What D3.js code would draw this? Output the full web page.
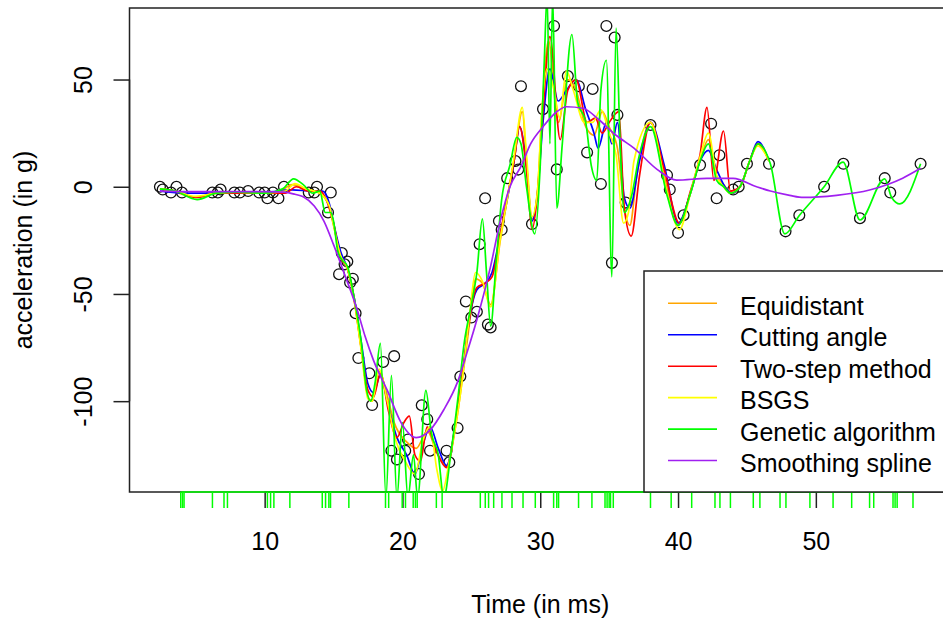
<!DOCTYPE html>
<html>
<head>
<meta charset="utf-8">
<script src="https://cdn.jsdelivr.net/npm/d3@7"></script>
<style>
  body { margin: 0; background: #fff; }
  text { font-family: "Liberation Sans", Arial, sans-serif; fill: #000; }
  .axis path, .axis line { stroke: #222; }
</style>
</head>
<body>
<script>
// mcycle data (duplicate times averaged)
var times = [2.4, 2.6, 3.2, 3.6, 4.0, 6.2, 6.6, 6.8, 7.8, 8.2, 8.8, 9.6, 10.0, 10.2, 10.6, 11.0, 11.4,
  13.2, 13.6, 13.8, 14.6, 14.8, 15.4, 15.6, 15.8, 16.0, 16.2, 16.4, 16.6, 16.8, 17.6, 17.8, 18.6,
  19.2, 19.4, 19.6, 20.2, 20.4, 21.2, 21.4, 21.8, 22.0, 23.2, 23.4, 24.0, 24.2, 24.6, 25.0, 25.4,
  25.6, 26.0, 26.2, 26.4, 27.0, 27.2, 27.6, 28.2, 28.4, 28.6, 29.4, 30.2, 31.0, 31.2, 32.0, 32.8,
  33.4, 33.8, 34.4, 34.8, 35.2, 35.4, 35.6, 36.2, 38.0, 39.2, 39.4, 40.0, 40.4, 41.6, 42.4, 42.8,
  43.0, 44.0, 44.4, 45.0, 46.6, 47.8, 48.8, 50.6, 52.0, 53.2, 55.0, 55.4, 57.6];
var accel = [0.0, -1.3, -2.7, 0.0, -2.7, -2.7, -2.7, -1.3, -2.7, -2.7, -2.0, -2.7, -2.7, -5.4, -2.7, -5.4, 0.0,
  -2.7, -2.7, 0.0, -12.0, -2.7, -40.8, -30.9, -36.2, -34.9, -44.7, -42.9, -59.0, -79.9, -87.0, -101.8, -81.7,
  -123.1, -79.0, -127.2, -123.1, -117.9, -134.0, -101.9, -108.4, -123.1, -123.1, -128.5, -112.5, -88.5, -53.5, -61.0, -58.3,
  -26.8, -5.4, -64.3, -65.6, -16.0, -20.1, 4.0, 12.0, 8.0, 46.9, -17.4, 36.2, 75.0, 8.1, 51.6, 46.9,
  16.0, 45.6, 1.3, 75.0, -35.5, 69.6, 33.5, -7.4, 28.8, 5.4, -1.3, -21.5, -13.3, 10.1, 29.4, -5.4,
  14.7, -1.3, 0.0, 10.7, 10.7, -20.8, -13.3, 0.0, 10.7, -14.7, 4.0, -2.7, 10.7];

// knots of the genetic algorithm (rug)
var knots = [3.91, 4.04, 4.15, 6.21, 7.05, 7.30, 10.2, 10.43, 10.67, 11.83, 14.18, 14.42, 14.66, 14.78,
  16.11, 18.77, 19.0, 19.98, 20.22, 20.78, 20.94, 21.07, 22.46, 22.88, 25.65, 26.01, 26.25, 26.62,
  27.22, 27.95, 28.75, 29.64, 30.97, 31.2, 31.33, 32.78, 33.75, 34.7, 34.85, 35.0, 35.1, 35.3, 38.0,
  39.5, 40.99, 42.68, 43.04, 43.8, 45.46, 45.94, 47.4, 47.83, 49.57, 51.25, 52.6, 53.9, 54.2, 55.6,
  55.75, 55.9, 57.05];

var xTicks = [10, 20, 30, 40, 50];
var yTicks = [-100, -50, 0, 50];

// fitted curves
var equidistant = [[2.4,-1],[3.5,-2.5],[5,-5],[6.5,-3],[8,-2.5],[10,-3],[11,-2.5],[12,1],[13,-1],[14,-3],[14.6,-8],
  [15,-18],[15.5,-32],[16,-38],[16.5,-52],[17,-75],[17.5,-98],[17.8,-100],[18.3,-86],[18.8,-95],[19.4,-110],
  [20.3,-119],[21,-122],[21.8,-114],[22.5,-124],[23.2,-130],[23.9,-110],[24.4,-87],[24.9,-62],[25.3,-43],
  [25.8,-45],[26.4,-55],[27.1,-25],[27.6,-6],[28.1,12],[28.7,35],[29.0,12],[29.4,-15],[29.8,-2],[30.1,32],
  [30.6,68],[31.3,30],[32.0,50],[32.6,45],[33.3,28],[33.9,24],[34.5,35],[35.0,28],[35.6,18],[36.1,-10],
  [36.5,-18],[37.0,5],[38.0,30],[39.0,5],[40.0,-18],[40.8,-5],[41.6,12],[42.2,22],[42.8,5],[43.3,1],
  [43.9,-3],[44.5,0],[45.2,12],[45.8,20],[46.6,12]];
var cuttingAngle = [[2.4,-2],[4,-3],[6,-3],[8,-2.5],[10,-2.5],[12,-1.5],[13.5,-2],[14.2,-2],[14.7,-8],[15,-17],
  [15.5,-30],[16,-38],[16.5,-52],[17,-72],[17.5,-92],[17.9,-96],[18.4,-88],[19,-103],[19.6,-117],[20.3,-125],
  [20.9,-134],[21.5,-120],[22,-112],[22.6,-122],[23.2,-130],[23.9,-108],[24.4,-85],[24.9,-60],[25.4,-48],
  [26,-45],[26.5,-40],[27.1,-22],[27.6,-6],[28.1,12],[28.5,28],[29.0,10],[29.4,-16],[29.8,-3],[30.2,30],
  [30.7,55],[31.3,40],[31.9,45],[32.6,50],[33.3,36],[33.9,25],[34.2,18],[34.8,30],[35.2,20],[35.6,30],
  [36.1,-5],[36.5,-10],[37.2,12],[38,30],[39,10],[40,-17],[40.9,-3],[41.6,12],[42.2,17],[42.8,8],[43.4,0],
  [43.9,-3],[44.5,0],[45.2,12],[45.8,21],[46.6,12]];
var twoStep = [[2.4,-1],[3.5,-2],[5,-5],[6.5,-3],[8,-3],[10,-3],[11.5,-3],[12.3,0],[13.2,-2],[14,-2],[14.7,-10],
  [15,-17],[15.5,-33],[16,-38],[16.5,-53],[17,-75],[17.5,-95],[17.9,-98],[18.4,-87],[19,-105],[19.6,-117],
  [20.1,-110],[20.5,-107],[20.9,-125],[21.3,-128],[21.8,-112],[22.5,-124],[23.2,-131],[23.9,-108],[24.4,-85],
  [24.9,-60],[25.4,-47],[26,-45],[26.5,-42],[27.1,-22],[27.6,-5],[28.1,12],[28.5,28],[29.0,8],[29.4,-20],
  [29.8,-3],[30.2,35],[30.7,70],[31.45,22],[32.0,45],[32.6,50],[33.4,30],[34.0,32],[34.5,25],[35.0,30],
  [35.7,35],[36.1,-10],[36.6,-23],[37.2,5],[38,30],[39,8],[40.1,-17],[40.9,-2],[41.6,15],[42.1,37],[42.6,3],
  [43.3,26],[43.8,-2],[44.5,0],[45.2,12],[45.8,20],[46.6,12]];
var bsgs = [[2.4,-1],[3.5,-2],[5,-4.5],[6.5,-3],[8,-2.5],[10,-3],[11.5,-2],[12.2,1.5],[13,-1],[14,-3],[14.7,-9],
  [15,-18],[15.5,-32],[16,-38],[16.5,-53],[17,-76],[17.5,-99],[17.8,-100],[18.3,-85],[18.9,-100],[19.5,-118],
  [20.2,-128],[20.9,-134],[21.5,-118],[22,-112],[22.5,-132],[22.9,-142],[23.4,-128],[23.9,-110],[24.4,-87],
  [24.9,-58],[25.3,-40],[25.8,-44],[26.4,-56],[27.1,-24],[27.6,-6],[28.1,14],[28.7,37],[29.0,15],[29.4,-14],
  [29.8,-2],[30.1,34],[30.5,55],[31.0,45],[31.4,32],[31.9,54],[32.4,45],[33.2,30],[33.8,30],[34.4,36],
  [35.0,25],[35.5,15],[36.05,-17],[36.4,-12],[36.8,12],[38,30],[39.2,-3],[40.1,-20],[40.9,-3],[41.6,14],
  [42.2,25],[42.8,5],[43.3,0],[43.8,-3],[44.5,0],[45.2,12],[45.8,19],[46.6,12]];
var genetic = [[2.4,-1],[3.5,-2],[5.1,-6],[6.5,-3],[8,-2.5],[10,-3],[11.3,-1],[12.1,3.7],[12.8,1],[13.5,-3],
  [14.0,-2],[14.4,-12],[14.8,-12],[15.0,-16],[15.3,-30],[15.6,-34],[16.0,-37],[16.5,-52],[17.0,-72],[17.4,-95],
  [17.7,-100],[18.0,-92],[18.4,-73],[18.8,-145],[19.2,-88],[19.6,-145],[20.0,-110],[20.4,-145],[20.8,-125],
  [21.1,-145],[21.7,-95],[22.1,-115],[22.6,-125],[23.0,-145],[23.5,-125],[24.0,-100],[24.5,-72],[25.0,-55],
  [25.4,-40],[25.8,-15],[26.1,-40],[26.4,-65],[26.8,-35],[27.2,-6],[27.8,10],[28.3,23],[28.6,20],[29.0,0],
  [29.6,-22],[30.0,10],[30.3,60],[30.5,90],[30.7,20],[30.9,90],[31.2,-10],[31.6,20],[32.3,71],[32.7,40],
  [33.3,30],[33.7,10],[34.1,3],[34.4,45],[34.8,59],[35.2,-42],[35.5,74],[35.8,20],[36.1,-12],[36.6,-5],
  [37.2,15],[38,28],[39.2,-4],[40.0,-18],[40.9,-3],[41.6,12],[42.2,20],[42.8,3],[43.3,0],[43.8,-3],[44.5,0],
  [45.2,12],[45.8,20],[46.7,10.7],[47.75,-22],[48.8,-13.4],[50.6,0],[51.98,11.5],[53.2,-15.5],[55.0,3.7],
  [55.5,-5],[56.1,-8],[57.6,10.7]];
var smoothing = [[2.4,-2],[5,-2.3],[8,-2.3],[10,-2.3],[11.4,-2.5],[12.2,-3.5],[12.8,-4.7],[13.6,-9],[14.3,-16],
  [15.0,-27],[15.75,-40],[16.7,-57],[17.3,-70],[17.9,-81],[18.9,-95],[19.9,-110],[21.0,-117],[22.0,-113.5],
  [23.0,-104],[24.0,-91],[24.7,-77],[25.4,-62],[26.4,-37],[27.1,-16],[27.8,0],[28.6,9.5],[29.3,20],[30.2,28],
  [31.2,35],[31.9,37.3],[33.1,36.6],[34.3,31],[35.5,24],[36.8,18],[38.5,8],[39.9,3.1],[42.1,3.9],[44.0,3.9],
  [45.7,0],[46.7,-2],[48.1,-4],[49.1,-5],[51.5,-4],[53.9,-1.5],[56.3,4],[57.6,8.6]];

var methods = ["Equidistant", "Cutting angle", "Two-step method", "BSGS", "Genetic algorithm", "Smoothing spline"];
var methodColors = ["#FFA500", "#0000FF", "#FF0000", "#FFFF00", "#00FF00", "#A020F0"];
var fits = [equidistant, cuttingAngle, twoStep, bsgs, genetic, smoothing];

// graph
var width = 943, height = 621,
    plot = {left: 129.5, right: 951, top: 8, bottom: 492};

var x = d3.scaleLinear()
    .domain([0.192, 59.808])
    .range([plot.left, plot.right]);

var y = d3.scaleLinear()
    .domain([-142.36, 83.36])
    .range([plot.bottom, plot.top]);

var svg = d3.select("body").append("svg")
    .attr("width", width)
    .attr("height", height);

svg.append("clipPath")
    .attr("id", "plotclip")
  .append("rect")
    .attr("x", plot.left)
    .attr("y", plot.top)
    .attr("width", plot.right - plot.left)
    .attr("height", plot.bottom - plot.top);

// points
svg.append("g")
    .attr("clip-path", "url(#plotclip)")
  .selectAll("circle")
    .data(times)
  .enter().append("circle")
    .attr("cx", function(d) { return x(d); })
    .attr("cy", function(d, i) { return y(accel[i]); })
    .attr("r", 5.4)
    .attr("fill", "none")
    .attr("stroke", "#111")
    .attr("stroke-width", 1.3);

// fitted lines
var line = d3.line()
    .x(function(d) { return x(d[0]); })
    .y(function(d) { return y(d[1]); })
    .curve(d3.curveMonotoneX);

svg.append("g")
    .attr("clip-path", "url(#plotclip)")
  .selectAll("path")
    .data(fits)
  .enter().append("path")
    .attr("d", line)
    .attr("fill", "none")
    .attr("stroke", function(d, i) { return methodColors[i]; })
    .attr("stroke-width", 1.7)
    .attr("stroke-linejoin", "round");

// box
svg.append("rect")
    .attr("x", plot.left)
    .attr("y", plot.top)
    .attr("width", plot.right - plot.left)
    .attr("height", plot.bottom - plot.top)
    .attr("fill", "none")
    .attr("stroke", "#222")
    .attr("stroke-width", 1.5);

// axes (plain hyphen for negatives, like R)
var plainFormat = function(d) { return String(d); };

svg.append("g")
    .attr("class", "x axis")
    .attr("transform", "translate(0," + plot.bottom + ")")
    .call(d3.axisBottom(x).tickValues(xTicks).tickFormat(plainFormat).tickSize(16).tickPadding(24).tickSizeOuter(0))
    .call(function(g) {
      g.select(".domain").attr("d", "M" + x(xTicks[0]) + ",0H" + x(xTicks[xTicks.length - 1])).attr("stroke-width", 1.5);
      g.selectAll("line").attr("stroke-width", 1.5);
      g.selectAll("text").attr("font-size", 25).attr("font-family", "Liberation Sans, Arial, sans-serif").attr("fill", "#000");
    });

svg.append("g")
    .attr("class", "y axis")
    .attr("transform", "translate(" + plot.left + ",0)")
    .call(d3.axisLeft(y).tickValues(yTicks).tickFormat(plainFormat).tickSize(16).tickSizeOuter(0))
    .call(function(g) {
      g.select(".domain").attr("d", "M0," + y(yTicks[0]) + "V" + y(yTicks[yTicks.length - 1])).attr("stroke-width", 1.5);
      g.selectAll("line").attr("stroke-width", 1.5);
      g.selectAll("text")
        .attr("x", null).attr("dy", null)
        .attr("transform", "translate(-37.5,0) rotate(-90)")
        .attr("text-anchor", "middle")
        .attr("font-size", 25)
        .attr("font-family", "Liberation Sans, Arial, sans-serif")
        .attr("fill", "#000");
    });

// rug of knots
var rug = svg.append("g").attr("class", "rug");
rug.append("line")
    .attr("x1", x(d3.min(knots))).attr("x2", x(d3.max(knots)))
    .attr("y1", plot.bottom).attr("y2", plot.bottom)
    .attr("stroke", "#00FF00").attr("stroke-width", 1.5);
rug.selectAll(".knot")
    .data(knots)
  .enter().append("line")
    .attr("class", "knot")
    .attr("x1", function(d) { return x(d); })
    .attr("x2", function(d) { return x(d); })
    .attr("y1", plot.bottom)
    .attr("y2", plot.bottom + 16)
    .attr("stroke", "#00FF00")
    .attr("stroke-width", 1.5);

// labels
svg.append("text")
    .attr("x", (plot.left + plot.right) / 2)
    .attr("y", 613)
    .attr("text-anchor", "middle")
    .attr("font-size", 25)
    .text("Time (in ms)");

svg.append("text")
    .attr("transform", "translate(32," + ((plot.top + plot.bottom) / 2) + ") rotate(-90)")
    .attr("text-anchor", "middle")
    .attr("font-size", 25)
    .text("acceleration (in g)");

// legend
var legend = svg.append("g").attr("class", "legend");
legend.append("rect")
    .attr("x", 644)
    .attr("y", 271)
    .attr("width", 340)
    .attr("height", plot.bottom - 271)
    .attr("fill", "#fff")
    .attr("stroke", "#222")
    .attr("stroke-width", 1.5);

var rows = legend.selectAll(".row")
    .data(methods)
  .enter().append("g")
    .attr("class", "row")
    .attr("transform", function(d, i) { return "translate(0," + (303.3 + i * 31.45) + ")"; });

rows.append("line")
    .attr("x1", 668).attr("x2", 717)
    .attr("y1", 0).attr("y2", 0)
    .attr("stroke", function(d, i) { return methodColors[i]; })
    .attr("stroke-width", 1.6);

rows.append("text")
    .attr("x", 740)
    .attr("y", 11.5)
    .attr("font-size", 25)
    .text(function(d) { return d; });
</script>
</body>
</html>
